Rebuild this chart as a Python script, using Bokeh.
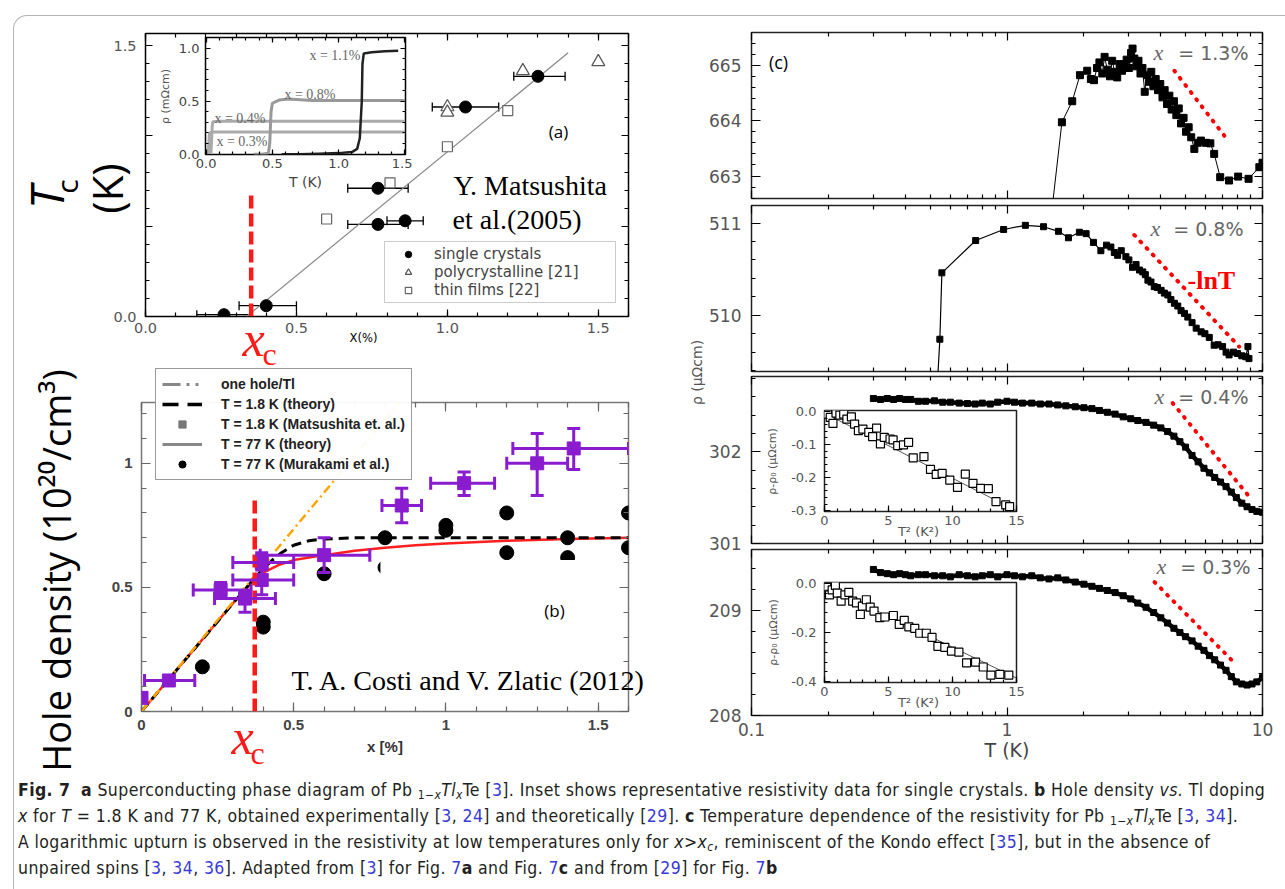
from math import pi
from bokeh.plotting import figure
from bokeh.models import (GridBox, Div, Range1d, LinearAxis, LogAxis, Label, Legend, LegendItem,
                          ColumnDataSource, Whisker, TeeHead, FixedTicker, SingleIntervalTicker,
                          CustomJSTickFormatter, PrintfTickFormatter)
from bokeh.embed import file_html
from bokeh.resources import INLINE

# ===================== DATA =====================
# ---- (a) Tc vs x ----
A_SC_X = [0.26, 0.40, 0.77, 0.77, 0.86, 1.06, 1.30]
A_SC_Y = [0.01, 0.06, 0.71, 0.51, 0.53, 1.16, 1.33]
A_SC_XLO = [0.17, 0.31, 0.67, 0.67, 0.80, 0.95, 1.22]
A_SC_XHI = [0.35, 0.50, 0.87, 0.87, 0.92, 1.17, 1.39]
A_PC_X = [1.00, 1.00, 1.25, 1.50]
A_PC_Y = [1.16, 1.13, 1.36, 1.41]
A_TF_X = [0.60, 0.81, 1.00, 1.20]
A_TF_Y = [0.54, 0.74, 0.94, 1.14]
A_FIT_X = [0.335, 1.40]
A_FIT_Y = [0.0, 1.46]
A_XC = 0.35
A_XC_TOP = 0.69
A_LEGEND = ["single crystals", "polycrystalline [21]", "thin films [22]"]
A_XRANGE = (0.0, 1.6)
A_YRANGE = (0.0, 1.567)

# ---- inset of (a): rho (mOhm cm) vs T (K) ----
AI_11_T = [0.57, 0.70, 0.85, 1.00, 1.10, 1.14, 1.16, 1.175, 1.18, 1.19, 1.25, 1.35, 1.45]
AI_11_R = [0.00, 0.00, 0.005, 0.01, 0.02, 0.05, 0.15, 0.50, 0.85, 0.95, 0.96, 0.97, 0.975]
AI_08_T = [0.36, 0.42, 0.47, 0.48, 0.49, 0.50, 0.55, 0.62, 0.80, 1.00, 1.20, 1.50]
AI_08_R = [0.00, 0.00, 0.01, 0.10, 0.40, 0.48, 0.51, 0.52, 0.505, 0.505, 0.505, 0.505]
AI_04_T = [0.035, 0.040, 0.045, 0.05, 0.10, 0.50, 1.00, 1.50]
AI_04_R = [0.00, 0.10, 0.25, 0.305, 0.31, 0.31, 0.31, 0.31]
AI_03_T = [0.015, 0.02, 0.025, 0.05, 0.50, 1.00, 1.50]
AI_03_R = [0.00, 0.10, 0.20, 0.21, 0.21, 0.21, 0.21]
AI_XRANGE = (-0.005, 1.505)
AI_YRANGE = (-0.003, 1.10)

# ---- (b) hole density vs x ----
B_M_X = [0.00, 0.09, 0.26, 0.34, 0.395, 0.395, 0.60, 0.855, 1.06, 1.30, 1.42]
B_M_Y = [0.055, 0.125, 0.49, 0.455, 0.53, 0.60, 0.63, 0.83, 0.92, 1.00, 1.06]
B_M_XLO = [0.00, 0.01, 0.17, 0.24, 0.30, 0.30, 0.39, 0.79, 0.95, 1.20, 1.22]
B_M_XHI = [0.00, 0.175, 0.36, 0.44, 0.50, 0.50, 0.75, 0.92, 1.16, 1.40, 1.60]
B_M_YLO = [0.055, 0.125, 0.46, 0.40, 0.47, 0.57, 0.56, 0.76, 0.87, 0.87, 0.975]
B_M_YHI = [0.055, 0.125, 0.52, 0.48, 0.63, 0.64, 0.70, 0.90, 0.965, 1.12, 1.14]
B_K_X = [0.20, 0.40, 0.40, 0.60, 0.80, 0.80, 1.00, 1.00, 1.20, 1.20, 1.40, 1.40, 1.60, 1.60]
B_K_Y = [0.18, 0.36, 0.34, 0.555, 0.70, 0.58, 0.75, 0.73, 0.80, 0.64, 0.70, 0.62, 0.80, 0.66]
B_ONE_X = [0.0, 0.85]
B_ONE_Y = [0.0, 1.25]
B_T18_X = [0.0, 0.1, 0.2, 0.3, 0.37, 0.40, 0.43, 0.46, 0.50, 0.55, 0.60, 0.70, 0.80, 1.0, 1.2, 1.4, 1.6]
B_T18_Y = [0.0, 0.145, 0.29, 0.435, 0.535, 0.575, 0.61, 0.64, 0.67, 0.688, 0.695, 0.70, 0.70, 0.70, 0.70, 0.70, 0.70]
B_T77_X = [0.0, 0.1, 0.2, 0.3, 0.37, 0.40, 0.45, 0.50, 0.60, 0.70, 0.80, 0.90, 1.0, 1.2, 1.4, 1.6]
B_T77_Y = [0.0, 0.145, 0.29, 0.435, 0.53, 0.56, 0.59, 0.61, 0.63, 0.648, 0.66, 0.67, 0.677, 0.688, 0.695, 0.70]
B_MASK = [0.785, 1.575, 0.035, 0.61]          # left, right, bottom, top of the blanked area
B_XC = 0.372
B_XC_TOP = 0.86
B_LEGEND = ["one hole/Tl", "T = 1.8 K (theory)", "T = 1.8 K (Matsushita et. al.)",
            "T = 77 K (theory)", "T = 77 K (Murakami et al.)"]
B_XRANGE = (0.0, 1.6)
B_YRANGE = (0.0, 1.245)

# ---- (c) rho (uOhm cm) vs T (K), four dopings ----
C_T_MAJOR = [0.1, 1, 10]
C_T_MINOR = [0.2, 0.3, 0.4, 0.5, 0.6, 0.7, 0.8, 0.9, 2, 3, 4, 5, 6, 7, 8, 9]
C_XRANGE = (0.1, 10)

C1_T = [1.50, 1.64, 1.80, 1.93, 2.06, 2.13, 2.19, 2.25, 2.30, 2.36, 2.41, 2.47, 2.53, 2.58, 2.64,
        2.70, 2.76, 2.82, 2.88, 2.94, 3.00, 3.06, 3.10, 3.15, 3.21, 3.27, 3.33, 3.39, 3.46, 3.53,
        3.60, 3.67, 3.74, 3.82, 3.90, 3.98, 4.06, 4.14, 4.23, 4.32, 4.41, 4.50, 4.60, 4.70, 4.80,
        4.91, 5.02, 5.14, 5.26, 5.41, 5.58, 5.74, 6.00, 6.25, 6.47, 6.83, 7.40, 8.03, 8.82, 9.72, 10.0]
C1_R = [662.40, 663.97, 664.35, 664.82, 664.90, 664.75, 664.73, 664.95, 665.05, 664.85, 665.15,
        664.92, 664.80, 665.08, 664.88, 664.78, 665.02, 664.90, 664.97, 665.10, 664.95, 665.22,
        665.30, 665.12, 664.98, 665.08, 664.85, 664.95, 664.52, 664.82, 664.70, 664.88, 664.62,
        664.75, 664.55, 664.66, 664.42, 664.55, 664.30, 664.45, 664.20, 664.35, 664.10, 664.22,
        663.95, 664.05, 663.80, 663.88, 663.70, 663.49, 663.60, 663.64, 663.60, 663.59, 663.40,
        662.98, 662.92, 662.99, 662.95, 663.16, 663.24]
C1_RED_T = [4.52, 7.36]
C1_RED_R = [664.90, 663.63]
C1_YRANGE = (662.595, 665.59)

C2_T = [0.535, 0.546, 0.556, 0.754, 0.97, 1.18, 1.39, 1.59, 1.74, 1.92, 2.04, 2.18, 2.33, 2.45,
        2.55, 2.63, 2.71, 2.80, 2.92, 3.00, 3.10, 3.20, 3.30, 3.40, 3.48, 3.56, 3.66, 3.77, 3.88,
        4.01, 4.13, 4.26, 4.38, 4.52, 4.66, 4.80, 4.95, 5.10, 5.30, 5.50, 5.75, 5.95, 6.19, 6.47,
        6.70, 6.98, 7.20, 7.40, 7.70, 7.98, 8.30, 8.60, 8.77, 8.85]
C2_R = [509.30, 509.74, 510.46, 510.81, 510.93, 510.975, 510.96, 510.91, 510.84, 510.90, 510.885,
        510.79, 510.70, 510.76, 510.74, 510.68, 510.65, 510.70, 510.635, 510.60, 510.52, 510.55,
        510.49, 510.47, 510.44, 510.38, 510.36, 510.31, 510.30, 510.27, 510.24, 510.22, 510.17,
        510.13, 510.10, 510.05, 510.02, 509.98, 509.92, 509.86, 509.82, 509.80, 509.76, 509.675,
        509.68, 509.66, 509.60, 509.57, 509.60, 509.585, 509.56, 509.55, 509.66, 509.53]
C2_RED_T = [3.15, 8.10]
C2_RED_R = [510.87, 509.66]
C2_YRANGE = (509.39, 511.19)

C34_T = [0.30, 0.32, 0.34, 0.36, 0.38, 0.40, 0.42, 0.45, 0.48, 0.52, 0.56, 0.60, 0.65, 0.70,
         0.75, 0.80, 0.86, 0.92, 1.00, 1.07, 1.15, 1.25, 1.35, 1.46, 1.58, 1.70, 1.85, 2.00,
         2.15, 2.30, 2.47, 2.65, 2.85, 3.05, 3.25, 3.50, 3.75, 4.00, 4.25, 4.50, 4.75, 5.00,
         5.30, 5.60, 5.90, 6.20, 6.50, 6.85, 7.20, 7.55, 7.90, 8.30, 8.70, 9.10, 9.50, 10.0]
C3_R = [302.58, 302.57, 302.58, 302.57, 302.58, 302.57, 302.57, 302.55, 302.55, 302.555, 302.54,
        302.54, 302.53, 302.525, 302.52, 302.53, 302.52, 302.54, 302.55, 302.54, 302.53, 302.53,
        302.52, 302.52, 302.51, 302.50, 302.49, 302.48, 302.47, 302.45, 302.43, 302.41, 302.38,
        302.36, 302.34, 302.32, 302.29, 302.26, 302.22, 302.17, 302.11, 302.05, 301.96, 301.89,
        301.82, 301.77, 301.72, 301.67, 301.62, 301.56, 301.50, 301.44, 301.40, 301.37, 301.35, 301.34]
C3_RED_T = [4.45, 8.94]
C3_RED_R = [302.53, 301.50]
C3_YRANGE = (301.0, 302.82)

C4_R = [209.39, 209.36, 209.35, 209.34, 209.35, 209.34, 209.33, 209.34, 209.34, 209.33, 209.33,
        209.32, 209.34, 209.33, 209.32, 209.33, 209.34, 209.32, 209.34, 209.33, 209.32, 209.33,
        209.31, 209.30, 209.31, 209.29, 209.27, 209.25, 209.23, 209.21, 209.19, 209.17, 209.14,
        209.11, 209.07, 209.03, 208.98, 208.93, 208.88, 208.83, 208.79, 208.75, 208.71, 208.66,
        208.62, 208.57, 208.53, 208.48, 208.43, 208.37, 208.32, 208.30, 208.29, 208.30, 208.32, 208.36]
C4_RED_T = [3.78, 7.63]
C4_RED_R = [209.27, 208.52]
C4_YRANGE = (208.0, 209.58)

C_LABELS = ["= 1.3%", "= 0.8%", "= 0.4%", "= 0.3%"]

# insets of (c): rho - rho0 vs T^2
C3I_X = [0.24, 0.45, 0.66, 0.90, 1.20, 1.50, 1.75, 2.10, 2.35, 2.65, 3.00, 3.46, 3.76, 4.07, 4.37,
         4.67, 5.12, 5.36, 5.72, 6.17, 6.57, 6.93, 7.77, 8.28, 8.73, 9.19, 9.79, 10.39, 11.00,
         11.60, 12.20, 12.80, 13.40, 14.16, 14.46]
C3I_Y = [-0.008, -0.018, -0.036, -0.005, -0.011, -0.008, -0.023, -0.016, -0.038, -0.058, -0.053,
         -0.063, -0.076, -0.050, -0.098, -0.078, -0.083, -0.086, -0.103, -0.101, -0.093, -0.140,
         -0.136, -0.175, -0.190, -0.187, -0.207, -0.229, -0.189, -0.217, -0.232, -0.233, -0.272,
         -0.282, -0.287]
C3I_FIT_X = [0.0, 15.0]
C3I_FIT_Y = [-0.005, -0.30]
C3I_YRANGE = (-0.302, 0.003)

C4I_X = [0.18, 0.39, 0.60, 0.85, 1.00, 1.30, 1.60, 1.90, 2.20, 2.50, 2.80, 2.96, 3.27, 3.57, 3.87,
         4.32, 4.72, 5.38, 5.84, 6.23, 6.59, 7.05, 7.44, 7.95, 8.40, 8.86, 9.40, 9.92, 10.50,
         11.10, 11.80, 12.40, 13.00, 13.70, 14.40]
C4I_Y = [-0.013, -0.047, -0.027, -0.009, -0.040, -0.073, -0.047, -0.037, -0.073, -0.080, -0.127,
         -0.093, -0.067, -0.097, -0.113, -0.140, -0.137, -0.131, -0.167, -0.151, -0.177, -0.183,
         -0.203, -0.203, -0.220, -0.256, -0.260, -0.276, -0.280, -0.323, -0.320, -0.340, -0.373,
         -0.370, -0.373]
C4I_FIT_X = [0.0, 15.0]
C4I_FIT_Y = [-0.01, -0.385]
C4I_YRANGE = (-0.403, 0.003)
CI_XRANGE = (0.0, 15.0)

# ===================== HELPERS =====================
FONT = "DejaVu Sans"
PAGE_W, PAGE_H = 1285, 889
NAN = float("nan")
placed = []


def make_panel(canvas, frame, xr, yr, x_axis_type="linear", outline="black", outline_width=1.5):
    cx0, cy0, cx1, cy1 = canvas
    fx0, fy0, fx1, fy1 = frame
    p = figure(width=cx1 - cx0, height=cy1 - cy0, x_range=Range1d(*xr), y_range=Range1d(*yr),
               x_axis_type=x_axis_type, toolbar_location=None, output_backend="svg", title=None,
               min_border_left=fx0 - cx0, min_border_right=cx1 - fx1,
               min_border_top=fy0 - cy0, min_border_bottom=cy1 - fy1)
    p.border_fill_color = None
    p.background_fill_color = "white"
    p.outline_line_color = outline
    p.outline_line_width = outline_width
    p.xgrid.visible = False
    p.ygrid.visible = False
    placed.append((p, cy0, cx0, cy1 - cy0, cx1 - cx0))
    return p


def style_axis(ax, size="14px", color="#555", font=FONT, fstyle="normal", tick_in=8, minor_in=4,
               standoff=6, tick_color="black", tick_width=1.2, show=True):
    ax.axis_line_color = None
    ax.major_tick_in = tick_in
    ax.major_tick_out = 0
    ax.minor_tick_in = minor_in
    ax.minor_tick_out = 0
    ax.major_tick_line_color = tick_color
    ax.minor_tick_line_color = tick_color
    ax.major_tick_line_width = tick_width
    ax.minor_tick_line_width = tick_width
    ax.major_label_text_font = font
    ax.major_label_text_font_style = fstyle
    if show:
        ax.major_label_text_font_size = size
        ax.major_label_text_color = color
        ax.major_label_standoff = standoff
    else:
        ax.major_label_text_font_size = "1px"
        ax.major_label_text_color = None
        ax.major_label_standoff = 0


def add_mirror(p, xticker, yticker, log=False, **kw):
    top = LogAxis(ticker=xticker) if log else LinearAxis(ticker=xticker)
    style_axis(top, show=False, **kw)
    p.add_layout(top, "above")
    right = LinearAxis(ticker=yticker)
    style_axis(right, show=False, **kw)
    p.add_layout(right, "right")


def add_text(p, x, y, text, size, color="black", font=FONT, style="normal", align="left",
             baseline="middle", angle=0.0):
    p.add_layout(Label(x=x, y=y, x_units="screen", y_units="screen", text=text,
                       text_font=font, text_font_size=size, text_color=color,
                       text_font_style=style, text_align=align, text_baseline=baseline,
                       angle=angle))


def tee(color, size, width):
    return TeeHead(size=size, line_color=color, line_width=width)


# transparent full-page layer for texts and the legend that lie outside the plot frames
ov = figure(width=PAGE_W, height=PAGE_H, x_range=Range1d(0, PAGE_W), y_range=Range1d(0, PAGE_H),
            toolbar_location=None, output_backend="svg", title=None,
            x_axis_location=None, y_axis_location=None,
            min_border_left=0, min_border_right=0, min_border_top=0, min_border_bottom=0)
ov.border_fill_color = None
ov.background_fill_color = None
ov.outline_line_color = None
ov.xgrid.visible = False
ov.ygrid.visible = False


def page_text(X, Y, text, size, **kw):
    add_text(ov, X, PAGE_H - Y, text, size, **kw)


# ===================== PANEL (a) =====================
pa = make_panel((10, 12, 672, 366), (145, 33, 628, 316), A_XRANGE, A_YRANGE)
axt = SingleIntervalTicker(interval=0.5, num_minor_ticks=5)
ayt = SingleIntervalTicker(interval=0.5, num_minor_ticks=5)
pa.below[0].ticker = axt
pa.left[0].ticker = ayt
style_axis(pa.below[0], size="14.5px", tick_in=7, minor_in=4, standoff=6)
style_axis(pa.left[0], size="14.5px", tick_in=7, minor_in=4, standoff=9)
pa.below[0].formatter = PrintfTickFormatter(format="%.1f")
pa.left[0].formatter = CustomJSTickFormatter(code="return (tick == 0 || tick == 1.5) ? tick.toFixed(1) : '';")
add_mirror(pa, axt, ayt, tick_in=7, minor_in=4)

pa.line(A_FIT_X, A_FIT_Y, color="#888", line_width=1.2)
pa.add_layout(Whisker(source=ColumnDataSource(dict(b=A_SC_Y, lo=A_SC_XLO, hi=A_SC_XHI)),
                      base="b", lower="lo", upper="hi", dimension="width",
                      line_color="black", line_width=1.3,
                      upper_head=tee("black", 9, 1.3), lower_head=tee("black", 9, 1.3)))
r_tf = pa.scatter(A_TF_X, A_TF_Y, marker="square", size=10, fill_color="white",
                  line_color="#666", line_width=1.2)
r_pc = pa.scatter(A_PC_X, A_PC_Y, marker="triangle", size=13, fill_color="white",
                  line_color="#555", line_width=1.2)
r_sc = pa.scatter(A_SC_X, A_SC_Y, marker="circle", size=12, color="black")
pa.line([A_XC, A_XC], [0, A_XC_TOP], color="#ff1a1a", line_width=4.5, line_dash="13 5")

pa.add_layout(Legend(items=[LegendItem(label=A_LEGEND[0], renderers=[r_sc]),
                            LegendItem(label=A_LEGEND[1], renderers=[r_pc]),
                            LegendItem(label=A_LEGEND[2], renderers=[r_tf])],
                     location=(239, 13), margin=0, padding=3, spacing=0,
                     label_height=16, glyph_height=16, glyph_width=40, label_standoff=6,
                     label_width=178, border_line_color="#999", border_line_width=1.5,
                     background_fill_color="white", label_text_font=FONT,
                     label_text_font_size="15px", label_text_color="#444"))
add_text(pa, 413, 185, "(a)", "17px", font="Open Sans", align="center")
add_text(pa, 308, 131, "Y. Matsushita", "28px", font="Liberation Serif")
add_text(pa, 307, 97, "et al.(2005)", "28px", font="Liberation Serif")

# ===================== PANEL (b) =====================
pb = make_panel((12, 365, 672, 764), (141, 402, 630, 711), B_XRANGE, B_YRANGE, outline="#777")
bxt = SingleIntervalTicker(interval=0.5, num_minor_ticks=5)
byt = SingleIntervalTicker(interval=0.5, num_minor_ticks=5)
pb.below[0].ticker = bxt
pb.left[0].ticker = byt
for ax, so in ((pb.below[0], 8), (pb.left[0], 9)):
    style_axis(ax, size="15px", color="#444", font="Liberation Sans", fstyle="bold",
               tick_in=9, minor_in=5, standoff=so, tick_color="#666")
    ax.formatter = CustomJSTickFormatter(code="return tick.toString();")
bx = pb.below[0]
bx.axis_label = "x [%]"
bx.axis_label_text_font = "Liberation Sans"
bx.axis_label_text_font_style = "bold"
bx.axis_label_text_font_size = "15px"
bx.axis_label_text_color = "#333"
bx.axis_label_standoff = 5
add_mirror(pb, bxt, byt, tick_in=9, minor_in=5, tick_color="#666")

pb.line(B_T77_X, B_T77_Y, color="#ff1f1f", line_width=2.5)
pb.line(B_T18_X, B_T18_Y, color="black", line_width=3, line_dash="10 6")
pb.line(B_ONE_X, B_ONE_Y, color="#ffa500", line_width=2.5, line_dash="9 4 2 4")
pb.scatter(B_K_X, B_K_Y, marker="circle", size=14, color="black")
xe = [i for i in range(len(B_M_X)) if B_M_XHI[i] > B_M_XLO[i]]
ye = [i for i in range(len(B_M_X)) if B_M_YHI[i] > B_M_YLO[i]]
PURPLE = "#8a1ccf"
pb.add_layout(Whisker(source=ColumnDataSource(dict(b=[B_M_Y[i] for i in xe], lo=[B_M_XLO[i] for i in xe],
                                                   hi=[B_M_XHI[i] for i in xe])),
                      base="b", lower="lo", upper="hi", dimension="width", level="glyph",
                      line_color=PURPLE, line_width=3,
                      upper_head=tee(PURPLE, 13, 3), lower_head=tee(PURPLE, 13, 3)))
pb.add_layout(Whisker(source=ColumnDataSource(dict(b=[B_M_X[i] for i in ye], lo=[B_M_YLO[i] for i in ye],
                                                   hi=[B_M_YHI[i] for i in ye])),
                      base="b", lower="lo", upper="hi", dimension="height", level="glyph",
                      line_color=PURPLE, line_width=3,
                      upper_head=tee(PURPLE, 13, 3), lower_head=tee(PURPLE, 13, 3)))
pb.scatter(B_M_X, B_M_Y, marker="square", size=13, color=PURPLE)
pb.quad(left=[B_MASK[0]], right=[B_MASK[1]], bottom=[B_MASK[2]], top=[B_MASK[3]],
        fill_color="white", line_color=None)
pb.line([B_XC, B_XC], [0, B_XC_TOP], color="#ff1a1a", line_width=4.5, line_dash="13 5")
add_text(pb, 413, 101, "(b)", "17px", font="Open Sans", align="center")

# ===================== INSET of (a) =====================
pi_a = make_panel((155, 28, 412, 190), (205, 37, 405, 154), AI_XRANGE, AI_YRANGE)
ixt = SingleIntervalTicker(interval=0.5, num_minor_ticks=5)
iyt = SingleIntervalTicker(interval=0.5, num_minor_ticks=5)
pi_a.below[0].ticker = ixt
pi_a.left[0].ticker = iyt
style_axis(pi_a.below[0], size="13px", color="#444", tick_in=5, minor_in=3, standoff=4)
style_axis(pi_a.left[0], size="13px", color="#444", tick_in=5, minor_in=3, standoff=6)
pi_a.below[0].formatter = PrintfTickFormatter(format="%.1f")
pi_a.left[0].formatter = PrintfTickFormatter(format="%.1f")
add_mirror(pi_a, ixt, iyt, tick_in=5, minor_in=3)
pi_a.line(AI_03_T, AI_03_R, color="#aaa", line_width=3)
pi_a.line(AI_04_T, AI_04_R, color="#aaa", line_width=3)
pi_a.line(AI_08_T, AI_08_R, color="#999", line_width=3)
pi_a.line(AI_11_T, AI_11_R, color="#222", line_width=2.5)
add_text(pi_a, 155, 99, "x = 1.1%", "14px", color="#666", font="Liberation Serif", align="right")
add_text(pi_a, 130, 60, "x = 0.8%", "14px", color="#666", font="Liberation Serif", align="right")
add_text(pi_a, 60, 36.5, "x = 0.4%", "14px", color="#666", font="Liberation Serif", align="right")
add_text(pi_a, 62, 13, "x = 0.3%", "14px", color="#666", font="Liberation Serif", align="right")

# ===================== PANEL (c) =====================
C_CANVAS = [(683, 20, 1282, 215), (683, 193, 1282, 388), (683, 326, 1282, 560), (683, 537, 1282, 772)]
C_FRAME = [(751, 32, 1262, 198), (751, 205, 1262, 371), (751, 376, 1262, 543), (751, 549, 1262, 715)]
C_DATA = [(C1_T, C1_R, C1_RED_T, C1_RED_R, C1_YRANGE),
          (C2_T, C2_R, C2_RED_T, C2_RED_R, C2_YRANGE),
          (C34_T, C3_R, C3_RED_T, C3_RED_R, C3_YRANGE),
          (C34_T, C4_R, C4_RED_T, C4_RED_R, C4_YRANGE)]
C_LAB_POS = [(497, 407, 146), (492, 404, 143), (497, 408, 147), (499, 410, 149)]
cps = []
for k in range(4):
    T, R, RT, RR, yr = C_DATA[k]
    p = make_panel(C_CANVAS[k], C_FRAME[k], C_XRANGE, yr, x_axis_type="log", outline="#222")
    xt = FixedTicker(ticks=C_T_MAJOR, minor_ticks=C_T_MINOR)
    yt = SingleIntervalTicker(interval=1, num_minor_ticks=5)
    p.below[0].ticker = xt
    p.left[0].ticker = yt
    style_axis(p.left[0], size="17px", color="#555", tick_in=9, minor_in=4, standoff=10)
    style_axis(p.below[0], size="17px", color="#555", tick_in=8, minor_in=4, standoff=7, show=(k == 3))
    p.below[0].formatter = CustomJSTickFormatter(code="return tick.toString();")
    if k == 3:
        p.below[0].axis_label = "T (K)"
        p.below[0].axis_label_text_font = FONT
        p.below[0].axis_label_text_font_style = "normal"
        p.below[0].axis_label_text_font_size = "19px"
        p.below[0].axis_label_text_color = "#444"
        p.below[0].axis_label_standoff = 0
    add_mirror(p, xt, yt, log=True, tick_in=8, minor_in=4)
    if k == 0:
        p.line(T, R, color="black", line_width=1)
        p.scatter(T, R, marker="square", size=7, color="black")
    elif k == 1:
        p.line(T, R, color="black", line_width=1.2)
        p.scatter(T, R, marker="square", size=6, color="black")
    else:
        p.line(T, R, color="black", line_width=4.5)
        p.scatter(T, R, marker="square", size=6, color="black")
    p.line(RT, RR, color="#ff0000", line_width=4, line_dash="1 8", line_cap="round")
    rx, xx, by = C_LAB_POS[k]
    add_text(p, rx, by, C_LABELS[k], "19px", color="#666", align="right")
    add_text(p, xx, by, "x", "22px", color="#666", font="Liberation Serif", style="italic", align="center")
    cps.append(p)

add_text(cps[0], 27, 136.5, "(c)", "18px", font="Open Sans", align="center")
add_text(cps[1], 436, 91, "-lnT", "26px", color="#ff0000", font="Liberation Serif", style="bold")

# insets of (c)
CI = [((760, 400, 1025, 540), (823, 410, 1016, 511), C3I_X, C3I_Y, C3I_FIT_X, C3I_FIT_Y, C3I_YRANGE, 0.1),
      ((760, 572, 1025, 712), (824, 582, 1016, 682), C4I_X, C4I_Y, C4I_FIT_X, C4I_FIT_Y, C4I_YRANGE, 0.2)]
for canvas, frame, X, Y, FX, FY, yr, step in CI:
    p = make_panel(canvas, frame, CI_XRANGE, yr, outline="#222")
    p.below[0].ticker = SingleIntervalTicker(interval=5, num_minor_ticks=5)
    p.left[0].ticker = SingleIntervalTicker(interval=step, num_minor_ticks=5)
    style_axis(p.below[0], size="13px", color="#555", tick_in=6, minor_in=3, standoff=4)
    style_axis(p.left[0], size="13px", color="#555", tick_in=6, minor_in=3, standoff=8)
    p.below[0].formatter = PrintfTickFormatter(format="%d")
    p.left[0].formatter = PrintfTickFormatter(format="%.1f")
    p.line(FX, FY, color="#555", line_width=1)
    p.scatter(X, Y, marker="square", size=8, fill_color="white", line_color="black", line_width=1.2)

# ===================== TEXTS OUTSIDE THE FRAMES (page coordinates, text centres) =====================
page_text(45, 197, "T", "46px", font="Open Sans", style="italic", align="center", angle=pi / 2)
page_text(66, 186, "c", "30px", font="Open Sans", align="center", angle=pi / 2)
page_text(106, 188, "(K)", "42px", font="Open Sans", align="center", angle=pi / 2)
page_text(253, 338, "x", "50px", color="#ff1a1a", font="Liberation Serif", style="italic", align="center")
page_text(269, 353, "c", "32px", color="#ff1a1a", font="Liberation Serif", align="center")
page_text(363, 337, "X(%)", "11.5px", align="center")
page_text(165, 96, "ρ (mΩcm)", "11px", color="#555", align="center", angle=pi / 2)
page_text(305, 181, "T (K)", "14px", color="#444", align="center")

page_text(55, 570, "Hole density (10²⁰/cm³)", "38px", font="Open Sans", align="center", angle=pi / 2)
page_text(242, 736, "x", "50px", color="#ff1a1a", font="Liberation Serif", style="italic", align="center")
page_text(257, 752, "c", "32px", color="#ff1a1a", font="Liberation Serif", align="center")
page_text(291, 680, "T. A. Costi and V. Zlatic (2012)", "28px", font="Liberation Serif")

page_text(696, 372, "ρ (μΩcm)", "14px", color="#555", align="center", angle=pi / 2)
page_text(918, 531, "T² (K²)", "13px", color="#555", align="center")
page_text(772, 461, "ρ-ρ₀ (μΩcm)", "11px", color="#555", align="center", angle=pi / 2)
page_text(918, 702, "T² (K²)", "13px", color="#555", align="center")
page_text(773, 632, "ρ-ρ₀ (μΩcm)", "11px", color="#555", align="center", angle=pi / 2)

# legend of (b) (it reaches above the frame of (b)); its renderers hold no visible point
lg1 = ov.line([NAN], [NAN], color="#888", line_width=3, line_dash="18 6 3 6 3 6")
lg2 = ov.line([NAN], [NAN], color="black", line_width=3.5, line_dash="16 9")
lg3 = ov.scatter([NAN], [NAN], marker="square", size=13, color="#777")
lg4 = ov.line([NAN], [NAN], color="#888", line_width=3)
lg5 = ov.scatter([NAN], [NAN], marker="circle", size=14, color="black")
ov.add_layout(Legend(items=[LegendItem(label=t, renderers=[r]) for t, r in
                            zip(B_LEGEND, [lg1, lg2, lg3, lg4, lg5])],
                     location=(155, PAGE_H - 480), margin=0, padding=6, spacing=2,
                     label_height=18, glyph_height=18, glyph_width=40, label_standoff=19,
                     label_width=184, border_line_color="#333", border_line_width=1.5,
                     background_fill_color="white", label_text_font="Liberation Sans",
                     label_text_font_style="bold", label_text_font_size="14px",
                     label_text_color="#222"))

# ===================== CAPTION & CARD =====================
def ref(t):
    return f'<span style="color:#3a3ad6">{t}</span>'


def sub(t):
    return f'<sub style="font-size:12px;line-height:0;vertical-align:-3px">{t}</sub>'


PBTE = f'Pb {sub("1−<i>x</i>")}<i>Tl</i>{sub("<i>x</i>")}Te'
CAPTION_LINES = [
    f'<b>Fig. 7</b>&nbsp; <b>a</b> Superconducting phase diagram of {PBTE} [{ref("3")}]. Inset shows '
    f'representative resistivity data for single crystals. <b>b</b> Hole density <i>vs.</i> Tl doping',
    f'<i>x</i> for <i>T</i> = 1.8 K and 77 K, obtained experimentally [{ref("3")}, {ref("24")}] and '
    f'theoretically [{ref("29")}]. <b>c</b> Temperature dependence of the resistivity for {PBTE} '
    f'[{ref("3")}, {ref("34")}].',
    f'A logarithmic upturn is observed in the resistivity at low temperatures only for '
    f'<i>x</i>&gt;<i>x</i>{sub("<i>c</i>")}, reminiscent of the Kondo effect [{ref("35")}], but in the absence of',
    f'unpaired spins [{ref("3")}, {ref("34")}, {ref("36")}]. Adapted from [{ref("3")}] for Fig. '
    f'{ref("7")}<b>a</b> and Fig. {ref("7")}<b>c</b> and from [{ref("29")}] for Fig. {ref("7")}<b>b</b>',
]
caption_html = ('<div style="font-family:\'DejaVu Sans Condensed\';font-size:17.5px;letter-spacing:0.4px;'
                'line-height:26px;color:#231f20;white-space:nowrap;margin:0;padding:0">'
                + "<br>".join(CAPTION_LINES) + '</div>')
caption = Div(text=caption_html, width=1265, height=112, styles={"margin": "0", "padding": "0"})
card = Div(text="", width=1277, height=879,
           styles={"border-top": "1.5px solid #b5b5b5", "border-left": "1.5px solid #b5b5b5",
                   "border-top-left-radius": "14px", "box-sizing": "border-box"})

children = [(card, 10, 8, 879, 1277)]
children += placed
children.append((caption, 777, 18, 112, 1265))
children.append((ov, 0, 0, PAGE_H, PAGE_W))

grid = GridBox(children=children, rows="1px", cols="1px", spacing=0)

html = file_html(grid, INLINE, title="Fig. 7")
html = html.replace("<head>", "<head><style>html,body{margin:0;padding:0;overflow:hidden;background:#fff}</style>", 1)
open("out.html", "w").write(html)
